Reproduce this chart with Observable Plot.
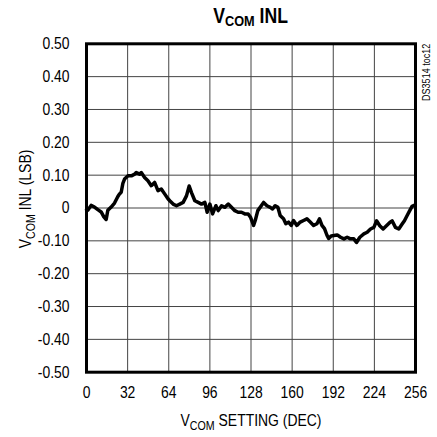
<!DOCTYPE html>
<html>
<head>
<meta charset="utf-8">
<script src="https://cdn.jsdelivr.net/npm/d3@7"></script>
<script src="https://cdn.jsdelivr.net/npm/@observablehq/plot@0.6"></script>
<style>
  html, body { margin: 0; padding: 0; background: white; }
  body { width: 437px; height: 437px; overflow: hidden; font-family: "Liberation Sans", Arial, sans-serif; }
  #title { height: 32px; width: 437px; box-sizing: border-box; padding-left: 64px; text-align: center; line-height: 32px; color: #000; }
  #title span.t { display: inline-block; transform: scaleX(0.82); font-weight: bold; font-size: 21.5px; }
  #title sub { font-size: 15.5px; vertical-align: -3px; line-height: 0; }
</style>
</head>
<body>
<div id="title"><span class="t">V<sub>COM</sub> INL</span></div>
<div id="chart"></div>
<script>
// ---- data ----
const xTicks = [0, 32, 64, 96, 128, 160, 192, 224, 256];
const yTicks = [-0.5, -0.4, -0.3, -0.2, -0.1, 0, 0.1, 0.2, 0.3, 0.4, 0.5];
const settings = [0, 1, 3.6, 6.2, 8.8, 11.4, 13.5, 15.3, 16.6, 19.2, 21.8, 24.4, 25.7, 27, 28.3, 29.6, 32.3, 34.9, 37.5, 38.7, 41.3, 42.6, 45.2, 47.8, 50.4, 53, 55.6, 58.2, 60.8, 63.4, 64.8, 67.4, 70, 72.6, 75.2, 77.8, 79.9, 81.7, 84.3, 86.9, 89.5, 92.1, 93.9, 96, 98.1, 100.7, 102.5, 105.1, 107.7, 110.3, 112.8, 115.4, 118, 120.6, 123.2, 125.8, 127.6, 128.1, 130, 131.3, 133.3, 136, 137.8, 140.4, 143, 144.8, 146.8, 148.9, 150.7, 153.3, 155.1, 157.2, 159.3, 161.1, 163.7, 166.3, 168.9, 171.5, 174.1, 176.7, 179.3, 181.3, 183.2, 185.2, 187.1, 188.4, 190.4, 192.5, 195.1, 197.7, 200.3, 202.8, 205.4, 208, 210.1, 212.7, 215.8, 218.4, 221, 223.6, 225.7, 228.2, 230.8, 233.4, 236, 237.8, 240.4, 243, 245.6, 247.4, 249.5, 251.5, 253.3, 255];
const inl = [-0.005, -0.007, 0.008, 0.003, -0.005, -0.012, -0.027, -0.035, -0.007, 0.003, 0.015, 0.035, 0.043, 0.048, 0.075, 0.088, 0.098, 0.098, 0.103, 0.108, 0.103, 0.108, 0.093, 0.083, 0.068, 0.078, 0.053, 0.058, 0.043, 0.028, 0.022, 0.012, 0.007, 0.012, 0.017, 0.037, 0.067, 0.047, 0.022, 0.017, 0.012, 0.017, -0.013, 0.012, -0.018, 0.007, -0.008, 0.007, 0.002, 0.012, 0.002, -0.008, -0.013, -0.013, -0.018, -0.018, -0.028, -0.033, -0.053, -0.038, -0.008, 0.007, 0.017, 0.007, 0.002, -0.003, 0.007, 0.002, -0.023, -0.033, -0.048, -0.043, -0.053, -0.038, -0.053, -0.043, -0.038, -0.033, -0.043, -0.053, -0.048, -0.033, -0.053, -0.063, -0.083, -0.093, -0.085, -0.084, -0.082, -0.089, -0.094, -0.089, -0.094, -0.094, -0.105, -0.089, -0.079, -0.074, -0.064, -0.059, -0.039, -0.054, -0.064, -0.054, -0.044, -0.039, -0.059, -0.064, -0.049, -0.039, -0.023, -0.008, 0.005, 0.008];
const sideNote = "DS3514 toc12";
const yLabel = ["V", "COM", " INL (LSB)"];
const xLabel = ["V", "COM", " SETTING (DEC)"];

const data = settings.map((s, i) => ({setting: s, inl: inl[i]}));
const font = "'Liberation Sans', Arial, sans-serif";
const squeeze = " scale(0.82,1)";

const chart = Plot.plot({
  width: 437,
  height: 405,
  marginTop: 11.3,
  marginBottom: 65.3,
  marginLeft: 86,
  marginRight: 22,
  style: {fontFamily: font, fontSize: "17px", background: "white", color: "#000", overflow: "visible"},
  x: {domain: [0, 256], label: null},
  y: {domain: [-0.5, 0.5], label: null},
  marks: [
    Plot.gridX(xTicks, {stroke: "#444", strokeOpacity: 1, strokeWidth: 1}),
    Plot.gridY(yTicks, {stroke: "#444", strokeOpacity: 1, strokeWidth: 1}),
    Plot.line(data, {x: "setting", y: "inl", stroke: "#000", strokeWidth: 3.5, strokeLinejoin: "round", strokeLinecap: "round"}),
    Plot.frame({stroke: "#000", strokeWidth: 3}),
    Plot.axisX(xTicks, {tickSize: 0, tickPadding: 14, tickFormat: d => String(d), label: null, fontSize: 17, fill: "#000"}),
    Plot.axisY(yTicks, {tickSize: 0, tickPadding: 17, tickFormat: d => d === 0 ? "0" : d.toFixed(2), label: null, fontSize: 17, fill: "#000"}),
    Plot.text([sideNote], {frameAnchor: "top-right", rotate: -90, textAnchor: "end", dx: 7, text: d => d, fontSize: 11, fill: "#000"})
  ]
});
document.getElementById("chart").appendChild(chart);

const svg = d3.select(chart);
// condensed look: squeeze every text horizontally along its own direction
svg.selectAll("text").each(function () {
  const t = this.getAttribute("transform") || "";
  this.setAttribute("transform", t + squeeze);
});

// axis titles with subscripts
function addLabel(parts, x, y, rotate) {
  const t = svg.append("text")
    .attr("transform", `translate(${x},${y})` + (rotate ? ` rotate(${rotate})` : "") + squeeze)
    .attr("text-anchor", "middle")
    .attr("font-family", font)
    .attr("font-size", 17)
    .attr("fill", "#000");
  t.append("tspan").text(parts[0]);
  t.append("tspan").attr("font-size", 13).attr("dy", 3.5).text(parts[1]);
  t.append("tspan").attr("dy", -3.5).text(parts[2]);
}
addLabel(xLabel, 251, 394, 0);
addLabel(yLabel, 31, 167, -90);
</script>
</body>
</html>
